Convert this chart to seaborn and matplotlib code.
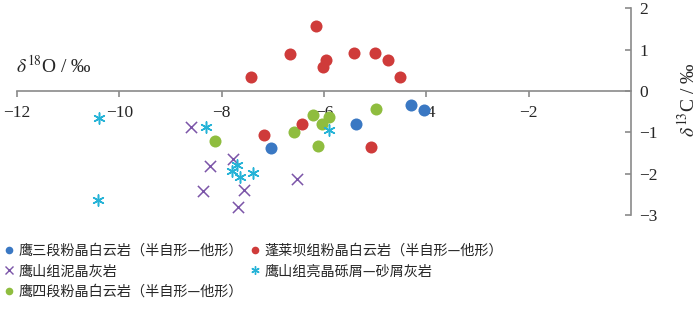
import matplotlib
matplotlib.use("Agg")
import matplotlib.pyplot as plt
import seaborn as sns
import pandas as pd

# data
blue_x = [-7.03, -5.37, -4.29, -4.04]
blue_y = [-1.38, -0.79, -0.33, -0.46]
red_x = [-7.42, -6.67, -6.15, -5.96, -6.02, -5.42, -5.00, -4.74, -4.52, -5.09, -6.43, -7.18]
red_y = [0.35, 0.90, 1.56, 0.74, 0.57, 0.92, 0.92, 0.75, 0.33, -1.36, -0.79, -1.06]
purple_x = [-8.60, -8.22, -8.36, -7.78, -7.57, -7.68, -6.52]
purple_y = [-0.86, -1.82, -2.43, -1.64, -2.40, -2.80, -2.13]
cyan_x = [-10.39, -10.42, -8.30, -7.70, -7.80, -7.65, -7.38, -5.91]
cyan_y = [-0.65, -2.63, -0.88, -1.80, -1.94, -2.09, -1.99, -0.94]
green_x = [-8.13, -6.58, -6.22, -6.03, -5.90, -6.11, -4.98]
green_y = [-1.21, -1.00, -0.59, -0.79, -0.62, -1.34, -0.43]

names = ["鹰三段粉晶白云岩（半自形—他形）", "蓬莱坝组粉晶白云岩（半自形—他形）",
         "鹰山组泥晶灰岩", "鹰山组亮晶砾屑—砂屑灰岩", "鹰四段粉晶白云岩（半自形—他形）"]
x_ticks = [-12, -10, -8, -6, -4, -2]
y_ticks = [-3, -2, -1, 0, 1, 2]

sns.set_theme(style="white")
plt.rcParams['font.family'] = ['Noto Sans CJK SC', 'DejaVu Sans']
plt.rcParams['mathtext.fontset'] = 'stix'

fig = plt.figure(figsize=(7, 3.1), dpi=100)
ax = fig.add_axes([17/700, 1-215/310, (631-17)/700, (215-8.3)/310])

series = [
    (blue_x, blue_y, names[0], '#3a78c3', 'o'),
    (purple_x, purple_y, names[2], '#7b55a8', 'x'),
    (green_x, green_y, names[4], '#8fbd3f', 'o'),
    (red_x, red_y, names[1], '#cf3b3a', 'o'),
    (cyan_x, cyan_y, names[3], '#25b3d7', (6, 2, 0)),
]
handles = []
for xs, ys, nm, col, mk in series:
    df = pd.DataFrame({'x': xs, 'y': ys})
    if mk == 'o':
        sns.scatterplot(data=df, x='x', y='y', ax=ax, color=col, marker='o', s=75,
                        linewidth=0, label=nm, legend=False)
    else:
        sns.scatterplot(data=df, x='x', y='y', ax=ax, color=col, marker=mk, s=65,
                        linewidth=1.1, label=nm, legend=False)
    handles.append(plt.Line2D([], [], linestyle='none', marker=mk, color=col,
                              markersize=5.5 if mk == 'o' else 6,
                              markeredgewidth=0 if mk == 'o' else 1.0, label=nm))

ax.set_xlim(-12, 0)
ax.set_ylim(-3, 2)
ax.set_xlabel('')
ax.set_ylabel('')
axcol = '#8a8a8a'
for s in ['top', 'left']:
    ax.spines[s].set_visible(False)
ax.spines['bottom'].set_position(('data', 0))
ax.spines['right'].set_position(('data', 0))
ax.spines['bottom'].set_color(axcol)
ax.spines['right'].set_color(axcol)
ax.spines['bottom'].set_linewidth(1.2)
ax.spines['right'].set_linewidth(1.2)
ax.yaxis.tick_right()
ax.set_xticks(x_ticks)
ax.set_yticks(y_ticks)
ax.set_xticklabels([f"\u2212{abs(v)}" if v < 0 else str(v) for v in x_ticks],
                   family='Liberation Serif', fontsize=12.5)
ax.set_yticklabels([f"\u2212{abs(v)}" if v < 0 else str(v) for v in y_ticks],
                   family='Liberation Serif', fontsize=12.5)
ax.tick_params(axis='x', direction='out', length=4, width=1.2, color=axcol, pad=6, bottom=True)
ax.tick_params(axis='y', direction='in', length=4, width=1.2, color=axcol, pad=6, right=True)
ax.grid(False)

fig.text(16/700, 1-66/310, r"$\delta^{18}$O / ‰", family='Liberation Serif', fontsize=14,
         va='center', ha='left')
fig.text(688/700, 1-100/310, r"$\delta^{13}$C / ‰", family='Liberation Serif', fontsize=14,
         va='center', ha='center', rotation=90)

fig.legend(handles=handles, loc='upper left', bbox_to_anchor=(5/700, 1-244/310), ncol=2,
           frameon=False, fontsize=10.2, handlelength=0.6, handletextpad=0.35,
           columnspacing=0.55, labelspacing=0.45, borderaxespad=0, borderpad=0)

fig.savefig('out.png', dpi=100)
